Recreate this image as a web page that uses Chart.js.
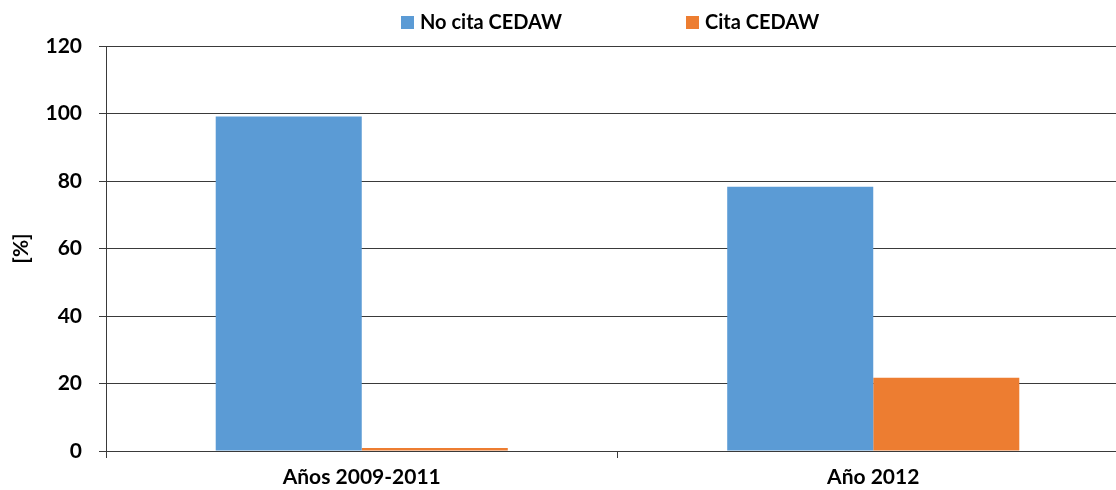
<!DOCTYPE html>
<html>
<head>
<meta charset="utf-8">
<script src="https://cdn.jsdelivr.net/npm/chart.js@4/dist/chart.umd.min.js"></script>
<style>
  html, body { margin: 0; padding: 0; background: #fff; overflow: hidden; }
  #wrap { width: 1129px; height: 490px; }
</style>
</head>
<body>
<div id="wrap"><canvas id="c" width="1129" height="490"></canvas></div>
<script>
// Periods compared
const categories = ['Años 2009-2011', 'Año 2012'];
// Share of documents (%) that do / do not cite CEDAW
const noCitaValues = [99.1, 78.3];
const citaValues = [0.9, 21.7];
const seriesLabels = ['No cita CEDAW', 'Cita CEDAW'];
const seriesColors = ['#5B9BD5', '#ED7D31'];
// Y axis ticks
const yTicks = [0, 20, 40, 60, 80, 100, 120];

const FONT = 'Lato, "Open Sans", sans-serif';
const AXIS = '#3a3a3a';

// Legend drawn across the top, one swatch + label per dataset
const topLegend = {
  id: 'topLegend',
  afterDraw(chart) {
    const ctx = chart.ctx;
    const xs = [401, 686];
    ctx.save();
    ctx.font = 'bold 20px ' + FONT;
    ctx.textBaseline = 'middle';
    chart.data.datasets.forEach((ds, i) => {
      ctx.fillStyle = ds.backgroundColor;
      ctx.fillRect(xs[i], 16, 13, 13);
      ctx.fillStyle = '#000';
      ctx.fillText(ds.label, xs[i] + 19, 23);
    });
    ctx.restore();
  }
};

new Chart(document.getElementById('c'), {
  type: 'bar',
  data: {
    labels: categories,
    datasets: [
      { label: seriesLabels[0], data: noCitaValues, backgroundColor: seriesColors[0] },
      { label: seriesLabels[1], data: citaValues, backgroundColor: seriesColors[1] }
    ]
  },
  options: {
    responsive: false,
    animation: false,
    devicePixelRatio: 1,
    layout: { padding: { top: 46, right: 0, bottom: 0, left: 0 } },
    plugins: {
      legend: { display: false },
      tooltip: { enabled: false }
    },
    datasets: {
      bar: { barPercentage: 1, categoryPercentage: 0.571, borderWidth: 0 }
    },
    scales: {
      x: {
        grid: {
          offset: true,
          drawOnChartArea: false,
          drawTicks: true,
          tickLength: 7,
          color: AXIS
        },
        border: { display: true, color: AXIS, width: 1 },
        ticks: {
          color: '#000',
          font: { family: FONT, size: 21, weight: 'bold' },
          padding: 7,
          maxRotation: 0
        },
        afterFit(scale) { scale.height = 39; }
      },
      y: {
        min: 0,
        max: 120,
        afterBuildTicks(scale) { scale.ticks = yTicks.map(v => ({ value: v })); },
        grid: {
          color: AXIS,
          lineWidth: 1,
          drawTicks: true,
          tickLength: 7
        },
        border: { display: true, color: AXIS, width: 1 },
        ticks: {
          color: '#000',
          font: { family: FONT, size: 21, weight: 'bold' },
          padding: 17
        },
        title: {
          display: true,
          text: '[%]',
          color: '#000',
          font: { family: FONT, size: 21, weight: 'bold' },
          padding: { top: 9, bottom: 0 }
        },
        afterFit(scale) { scale.width = 106; }
      }
    }
  },
  plugins: [topLegend]
});
</script>
</body>
</html>
